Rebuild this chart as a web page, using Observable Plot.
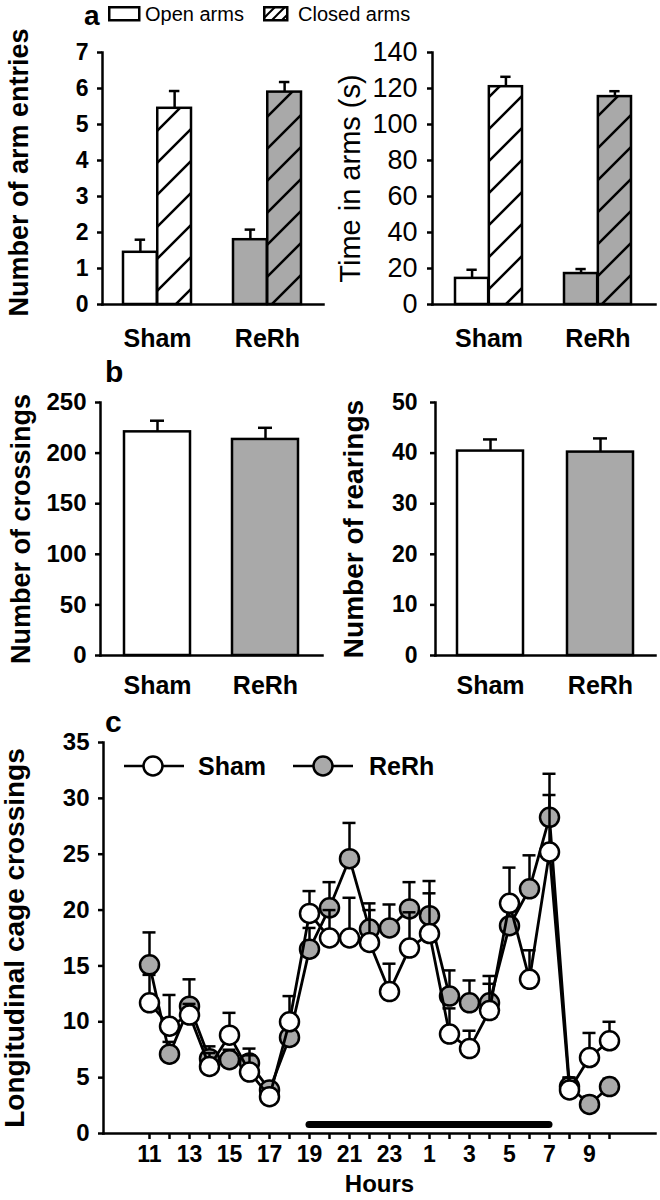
<!DOCTYPE html>
<html>
<head>
<meta charset="utf-8">
<script src="https://cdn.jsdelivr.net/npm/d3@7"></script>
<script src="https://cdn.jsdelivr.net/npm/@observablehq/plot@0.6"></script>
<style>
  html, body { margin: 0; padding: 0; background: #fff; }
  #fig { position: relative; width: 660px; height: 1200px; overflow: hidden; font-family: "Liberation Sans", Arial, Helvetica, sans-serif; color: #000; }
  .txt { position: absolute; line-height: 1.2; white-space: nowrap; }
  .lg { position: absolute; overflow: visible; }
</style>
</head>
<body>
<svg width="0" height="0" style="position:absolute;left:0;top:0" aria-hidden="true">
  <defs>
    <pattern id="hatch" patternUnits="userSpaceOnUse" width="32" height="32">
      <path d="M-8,8 L8,-8 M0,32 L32,0 M24,40 L40,24" stroke="#000" stroke-width="2.5" fill="none"/>
    </pattern>
    <pattern id="hatchSmall" patternUnits="userSpaceOnUse" width="10" height="10">
      <path d="M-2.5,2.5 L2.5,-2.5 M0,10 L10,0 M7.5,12.5 L12.5,7.5" stroke="#000" stroke-width="2" fill="none"/>
    </pattern>
  </defs>
</svg>
<div id="fig"></div>
<script>
// ---------------- data ----------------
const groups = ["Sham", "ReRh"];
const armTypes = ["Open arms", "Closed arms"];

// panel a
const entriesOpen = [1.45, 1.80];
const entriesOpenSem = [0.35, 0.28];
const entriesClosed = [5.45, 5.90];
const entriesClosedSem = [0.48, 0.28];
const entriesTicks = [0, 1, 2, 3, 4, 5, 6, 7];

const timeOpen = [14.5, 17.2];
const timeOpenSem = [4.8, 2.5];
const timeClosed = [121.0, 115.5];
const timeClosedSem = [5.5, 3.0];
const timeTicks = [0, 20, 40, 60, 80, 100, 120, 140];

// panel b
const crossings = [221, 213.5];
const crossingsSem = [11, 11.5];
const crossingsTicks = [0, 50, 100, 150, 200, 250];

const rearings = [40.4, 40.2];
const rearingsSem = [2.3, 2.7];
const rearingsTicks = [0, 10, 20, 30, 40, 50];

// panel c
const hours = [11, 12, 13, 14, 15, 16, 17, 18, 19, 20, 21, 22, 23, 0, 1, 2, 3, 4, 5, 6, 7, 8, 9, 10];
const shamMean = [11.7, 9.6, 10.6, 6.0, 8.8, 5.5, 3.3, 10.0, 19.7, 17.5, 17.5, 17.1, 12.7, 16.6, 17.9, 8.9, 7.6, 11.0, 20.6, 13.8, 25.2, 3.9, 6.8, 8.3];
const shamSem  = [2.5, 2.8, 1.0, 1.2, 2.0, 1.5, 0.7, 2.3, 2.0, 2.5, 3.6, 2.9, 2.5, 3.2, 4.7, 2.3, 1.6, 2.4, 3.2, 2.6, 5.1, 1.1, 2.2, 1.7];
const rerhMean = [15.1, 7.1, 11.4, 6.7, 6.6, 6.3, 3.9, 8.6, 16.5, 20.2, 24.6, 18.3, 18.4, 20.1, 19.5, 12.3, 11.7, 11.7, 18.6, 21.9, 28.3, 4.2, 2.6, 4.2];
const rerhSem  = [2.9, 1.1, 2.4, 1.1, 0.9, 1.3, 0.4, 1.2, 1.9, 2.3, 3.2, 2.3, 2.1, 2.4, 2.0, 2.3, 2.0, 2.4, 1.9, 3.0, 3.9, 0.8, 0.7, 0.7];
const cTicks = [0, 5, 10, 15, 20, 25, 30, 35];
const darkPhase = [{from: 19, to: 7, level: 0.8}];

// ---------------- styles ----------------
const FONT = '"Liberation Sans", Arial, Helvetica, sans-serif';
const GRAY = "#a9a9a9";
const groupFills = ["#ffffff", GRAY];
const SW = 2.5;
const fig = document.getElementById("fig");

function baseStyle() {
  return {background: "none", fontFamily: FONT, overflow: "visible", color: "#000"};
}
function place(el, left, top) {
  el.style.position = "absolute";
  el.style.left = left + "px";
  el.style.top = top + "px";
  el.style.maxWidth = "none";
  fig.appendChild(el);
}
function bandwidthOf(cfg) {
  const step = (cfg.width - cfg.ml - cfg.mr) / (groups.length - cfg.pi + 2 * cfg.po);
  return step * (1 - cfg.pi);
}
function commonAxes(cfg) {
  return [
    Plot.frame({anchor: "left", strokeWidth: SW}),
    Plot.frame({anchor: "bottom", strokeWidth: SW}),
    Plot.axisY(cfg.ticks, {tickSize: 5, tickPadding: cfg.tickPad, fontSize: cfg.tickFont, fontWeight: cfg.tickWeight, strokeWidth: SW, label: null}),
    Plot.axisX({tickSize: 0, tickPadding: cfg.xPad, fontSize: 25, fontWeight: "bold", label: null}),
    Plot.text([cfg.label], {frameAnchor: "left", textAnchor: "middle", rotate: -90, dx: cfg.labelDx, dy: cfg.labelDy || 0, fontSize: cfg.labelFont, fontWeight: cfg.labelWeight})
  ];
}

function pairedPanel(cfg) {
  const bw = bandwidthOf(cfg), h = bw / 2, capIn = (bw - cfg.cap) / 2;
  const rows = groups.map((g, i) => ({
    group: g,
    open: cfg.open[i], openTop: cfg.open[i] + cfg.openSem[i],
    closed: cfg.closed[i], closedTop: cfg.closed[i] + cfg.closedSem[i]
  }));
  return Plot.plot({
    width: cfg.width, height: cfg.height,
    marginLeft: cfg.ml, marginRight: cfg.mr, marginTop: cfg.mt, marginBottom: cfg.mb,
    style: baseStyle(),
    x: {domain: groups, paddingInner: cfg.pi, paddingOuter: cfg.po, label: null, axis: null},
    y: {domain: [cfg.ticks[0], cfg.ticks[cfg.ticks.length - 1]], label: null, axis: null},
    color: {domain: groups, range: groupFills},
    marks: [
      Plot.barY(rows, {x: "group", y: "open", fill: "group", insetRight: h}),
      Plot.barY(rows, {x: "group", y: "closed", fill: "group", insetLeft: h}),
      Plot.barY(rows, {x: "group", y: "closed", fill: "url(#hatch)", insetLeft: h}),
      Plot.barY(rows, {x: "group", y: "open", fill: "none", stroke: "#000", strokeWidth: SW, insetRight: h}),
      Plot.barY(rows, {x: "group", y: "closed", fill: "none", stroke: "#000", strokeWidth: SW, insetLeft: h}),
      Plot.ruleX(rows, {x: "group", y1: "open", y2: "openTop", dx: -h / 2, strokeWidth: SW}),
      Plot.tickY(rows, {x: "group", y: "openTop", dx: -h / 2, insetLeft: capIn, insetRight: capIn, strokeWidth: SW}),
      Plot.ruleX(rows, {x: "group", y1: "closed", y2: "closedTop", dx: h / 2, strokeWidth: SW}),
      Plot.tickY(rows, {x: "group", y: "closedTop", dx: h / 2, insetLeft: capIn, insetRight: capIn, strokeWidth: SW}),
      ...commonAxes(cfg)
    ]
  });
}

function singlePanel(cfg) {
  const bw = bandwidthOf(cfg), capIn = (bw - cfg.cap) / 2;
  const rows = groups.map((g, i) => ({group: g, value: cfg.values[i], top: cfg.values[i] + cfg.sem[i]}));
  return Plot.plot({
    width: cfg.width, height: cfg.height,
    marginLeft: cfg.ml, marginRight: cfg.mr, marginTop: cfg.mt, marginBottom: cfg.mb,
    style: baseStyle(),
    x: {domain: groups, paddingInner: cfg.pi, paddingOuter: cfg.po, label: null, axis: null},
    y: {domain: [cfg.ticks[0], cfg.ticks[cfg.ticks.length - 1]], label: null, axis: null},
    color: {domain: groups, range: groupFills},
    marks: [
      Plot.barY(rows, {x: "group", y: "value", fill: "group", stroke: "#000", strokeWidth: SW}),
      Plot.ruleX(rows, {x: "group", y1: "value", y2: "top", strokeWidth: SW}),
      Plot.tickY(rows, {x: "group", y: "top", insetLeft: capIn, insetRight: capIn, strokeWidth: SW}),
      ...commonAxes(cfg)
    ]
  });
}

// panel a
place(pairedPanel({
  width: 330, height: 350, ml: 102, mr: 7, mt: 52, mb: 46, pi: 0.38, po: 0.19, cap: 11,
  open: entriesOpen, openSem: entriesOpenSem, closed: entriesClosed, closedSem: entriesClosedSem,
  ticks: entriesTicks, tickPad: 9, tickFont: 23, tickWeight: "bold", xPad: 25,
  label: "Number of arm entries", labelDx: -83, labelDy: -6, labelFont: 27, labelWeight: "bold"
}), 0, 0);

place(pairedPanel({
  width: 330, height: 350, ml: 102, mr: 5, mt: 52, mb: 46, pi: 0.382, po: 0.209, cap: 11,
  open: timeOpen, openSem: timeOpenSem, closed: timeClosed, closedSem: timeClosedSem,
  ticks: timeTicks, tickPad: 10, tickFont: 27, tickWeight: "normal", xPad: 25,
  label: "Time in arms (s)", labelDx: -82, labelFont: 29, labelWeight: "normal"
}), 330, 0);

// panel b
place(singlePanel({
  width: 330, height: 360, ml: 100, mr: 8, mt: 52, mb: 55, pi: 0.389, po: 0.222, cap: 14,
  values: crossings, sem: crossingsSem,
  ticks: crossingsTicks, tickPad: 9, tickFont: 24, tickWeight: "bold", xPad: 21,
  label: "Number of crossings", labelDx: -79, labelFont: 27, labelWeight: "bold"
}), 0, 350);

place(singlePanel({
  width: 330, height: 360, ml: 105, mr: 5, mt: 52, mb: 55, pi: 0.4, po: 0.2, cap: 14,
  values: rearings, sem: rearingsSem,
  ticks: rearingsTicks, tickPad: 13, tickFont: 23, tickWeight: "bold", xPad: 21,
  label: "Number of rearings", labelDx: -81, labelFont: 28, labelWeight: "bold"
}), 330, 350);

// panel c
function series(mean, sem) {
  return hours.map((h, i) => ({hour: h, mean: mean[i], top: mean[i] + sem[i]}));
}
const shamRows = series(shamMean, shamSem);
const rerhRows = series(rerhMean, rerhSem);
function seriesMarks(rows, fill) {
  return [
    Plot.line(rows, {x: "hour", y: "mean", strokeWidth: 2.8}),
    Plot.ruleX(rows, {x: "hour", y1: "mean", y2: "top", strokeWidth: SW}),
    Plot.ruleY(rows, {x1: "hour", x2: "hour", y: "top", insetLeft: -6.5, insetRight: -6.5, strokeWidth: SW}),
    Plot.dot(rows, {x: "hour", y: "mean", r: 9.5, fill, stroke: "#000", strokeWidth: SW})
  ];
}
place(Plot.plot({
  width: 660, height: 490, marginLeft: 103, marginRight: 5, marginTop: 32, marginBottom: 67,
  style: baseStyle(),
  x: {type: "point", domain: hours, padding: 2, label: null, axis: null},
  y: {domain: [cTicks[0], cTicks[cTicks.length - 1]], label: null, axis: null},
  marks: [
    Plot.ruleY(darkPhase, {x1: "from", x2: "to", y: "level", strokeWidth: 7, strokeLinecap: "round"}),
    ...seriesMarks(rerhRows, GRAY),
    ...seriesMarks(shamRows, "#ffffff"),
    Plot.frame({anchor: "left", strokeWidth: SW}),
    Plot.frame({anchor: "bottom", strokeWidth: SW}),
    Plot.axisY(cTicks, {tickSize: 5, tickPadding: 9, fontSize: 24, fontWeight: "bold", strokeWidth: SW, label: null}),
    Plot.axisX(hours, {tickSize: 6, tickPadding: 6, tickFormat: d => (d % 2 ? String(d) : ""), fontSize: 23, fontWeight: "bold", strokeWidth: SW, label: null}),
    Plot.text(["Longitudinal cage crossings"], {frameAnchor: "left", textAnchor: "middle", rotate: -90, dx: -88, fontSize: 28, fontWeight: "bold"}),
    Plot.text(["Hours"], {frameAnchor: "bottom", dy: 58, fontSize: 24, fontWeight: "bold"})
  ]
}), 0, 710);

// ---------------- legends & panel letters ----------------
// text placed by its baseline (line-height 1.2 => baseline at top + 0.905em + 0.0415em)
function txt(s, left, baseline, size, weight) {
  const d = document.createElement("div");
  d.className = "txt";
  d.textContent = s;
  d.style.left = left + "px";
  d.style.top = (baseline - 0.9465 * size) + "px";
  d.style.fontSize = size + "px";
  d.style.fontWeight = weight;
  fig.appendChild(d);
}
const NS = "http://www.w3.org/2000/svg";
function svgEl(tag, attrs, parent) {
  const e = document.createElementNS(NS, tag);
  for (const k in attrs) e.setAttribute(k, attrs[k]);
  if (parent) parent.appendChild(e);
  return e;
}

// legend a
const legA = svgEl("svg", {width: 200, height: 20, class: "lg"});
legA.style.left = "107px"; legA.style.top = "5px";
svgEl("rect", {x: 2.25, y: 2.25, width: 30, height: 13, fill: "#fff", stroke: "#000", "stroke-width": SW}, legA);
svgEl("rect", {x: 157.25, y: 2.25, width: 23, height: 13, fill: "url(#hatchSmall)", stroke: "#000", "stroke-width": SW}, legA);
fig.appendChild(legA);
txt(armTypes[0], 145, 21, 20, "normal");
txt(armTypes[1], 298, 21, 20, "normal");

// legend c
const legC = svgEl("svg", {width: 260, height: 42, class: "lg"});
legC.style.left = "110px"; legC.style.top = "745px";
svgEl("line", {x1: 14, x2: 74, y1: 21, y2: 21, stroke: "#000", "stroke-width": SW}, legC);
svgEl("circle", {cx: 43, cy: 21, r: 9.5, fill: "#fff", stroke: "#000", "stroke-width": SW}, legC);
svgEl("line", {x1: 183, x2: 243, y1: 21, y2: 21, stroke: "#000", "stroke-width": SW}, legC);
svgEl("circle", {cx: 213, cy: 21, r: 9.5, fill: GRAY, stroke: "#000", "stroke-width": SW}, legC);
fig.appendChild(legC);
txt(groups[0], 198, 775, 25, "bold");
txt(groups[1], 369, 775, 25, "bold");

// panel letters
txt("a", 84, 25, 28, "bold");
txt("b", 105, 382, 30, "bold");
txt("c", 105, 732, 30, "bold");
</script>
</body>
</html>
